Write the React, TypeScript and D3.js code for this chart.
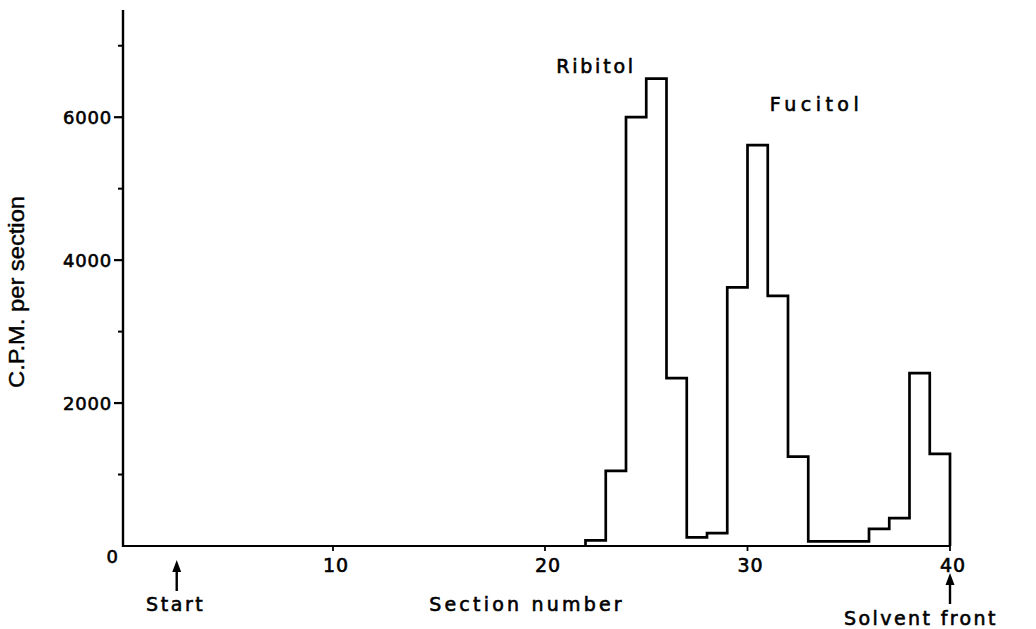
import * as d3 from 'd3';
import * as React from 'react';

const width = 1036;
const height = 629;

// section number where each bin starts (bin i covers [i, i+1])
const sections = [22, 23, 24, 25, 26, 27, 28, 29, 30, 31, 32, 33, 34, 35, 36, 37, 38, 39];
// C.P.M. per section
const counts = [80, 1050, 6000, 6540, 2350, 120, 180, 3620, 5610, 3500, 1250, 65, 65, 65, 240, 390, 2420, 1290];

const xTicks = [10, 20, 30, 40];
const yMajorTicks = [2000, 4000, 6000];
const yMinorTicks = [1000, 3000, 5000, 7000];

const peakLabels = [
  { text: 'Ribitol', section: 20.55, value: 6620 },
  { text: 'Fucitol', section: 31.1, value: 6090 },
];

const markers = [
  { text: 'Start', section: 2 },
  { text: 'Solvent front', section: 40 },
];

const font = '"DejaVu Sans", sans-serif';
// hand-lettered look: regular glyphs with a thin outline
const ink = { fill: '#000', stroke: '#000', strokeWidth: 0.6 };

export default function App() {
  // the hand-drawn axis is not quite even, so the scale follows its ticks
  const x = d3.scaleLinear().domain([-0.75, 10, 20, 40]).range([123, 333, 545, 950]);
  const y = d3.scaleLinear().domain([0, 7500]).range([546, 10]);

  const pts: Array<[number, number]> = [
    [sections[0], 0],
    ...sections.map((s, i) => [s, counts[i]] as [number, number]),
    [sections[sections.length - 1] + 1, counts[counts.length - 1]],
    [sections[sections.length - 1] + 1, 0],
  ];

  const line = d3
    .line<[number, number]>()
    .curve(d3.curveStepAfter)
    .x(d => x(d[0]))
    .y(d => y(d[1]));

  const x0 = x.range()[0];
  const yBase = y(0);

  return (
    <svg
      width={width}
      height={height}
      style={{ position: 'absolute', left: 0, top: 0, background: '#fff' }}
    >
      {/* axes */}
      <line x1={x0} x2={x0} y1={yBase + 1} y2={y(7500)} stroke="#000" strokeWidth={2.4} />
      <line x1={x0} x2={x(40)} y1={yBase} y2={yBase} stroke="#000" strokeWidth={2.2} />

      {yMajorTicks.map(t => (
        <g key={t}>
          <line x1={x0 - 9} x2={x0} y1={y(t)} y2={y(t)} stroke="#000" strokeWidth={2.2} />
          <text
            x={x0 - 11}
            y={y(t)}
            dy="0.36em"
            textAnchor="end"
            fontFamily={font}
            fontSize={18}
            letterSpacing={0.8}
            {...ink}
          >
            {t}
          </text>
        </g>
      ))}
      {yMinorTicks.map(t => (
        <line key={t} x1={x0 - 5} x2={x0} y1={y(t)} y2={y(t)} stroke="#000" strokeWidth={2} />
      ))}

      <text x={x0 - 5} y={yBase + 17} textAnchor="end" fontFamily={font} fontSize={18} {...ink}>
        0
      </text>

      {xTicks.map(t => (
        <g key={t}>
          <line x1={x(t)} x2={x(t)} y1={yBase} y2={yBase + 5} stroke="#000" strokeWidth={1.8} />
          <text
            x={x(t) + 3}
            y={yBase + 26}
            textAnchor="middle"
            fontFamily={font}
            fontSize={19}
            letterSpacing={1}
            {...ink}
          >
            {t}
          </text>
        </g>
      ))}

      {/* histogram */}
      <path d={line(pts) ?? ''} fill="none" stroke="#000" strokeWidth={2.7} strokeLinejoin="miter" />

      {peakLabels.map(p => (
        <text
          key={p.text}
          x={x(p.section)}
          y={y(p.value)}
          fontFamily={font}
          fontSize={19}
          letterSpacing={p.text === 'Ribitol' ? 2.8 : 4.5}
          {...ink}
        >
          {p.text}
        </text>
      ))}

      {/* arrows */}
      {markers.map((m, i) => {
        const ax = x(m.section);
        const top = i === 0 ? yBase + 14 : yBase + 27;
        const bottom = top + 31;
        return (
          <g key={m.text}>
            <line x1={ax} x2={ax} y1={top + 6} y2={bottom} stroke="#000" strokeWidth={2.4} />
            <path d={`M${ax},${top} L${ax - 4.5},${top + 12} L${ax + 4.5},${top + 12} Z`} fill="#000" />
            <text
              x={i === 0 ? ax - 1 : ax - 29}
              y={i === 0 ? bottom + 20 : bottom + 21}
              textAnchor="middle"
              fontFamily={font}
              fontSize={19}
              letterSpacing={i === 0 ? 2.6 : 2.4}
              {...ink}
            >
              {m.text}
            </text>
          </g>
        );
      })}

      <text
        x={527}
        y={611}
        textAnchor="middle"
        fontFamily={font}
        fontSize={19}
        letterSpacing={3.2}
        {...ink}
      >
        Section number
      </text>

      <text
        transform={`translate(24,${292}) rotate(-90)`}
        textAnchor="middle"
        fontFamily='"Liberation Sans Narrow", "Liberation Sans", sans-serif'
        fontSize={22}
        textLength={192}
        lengthAdjust="spacingAndGlyphs"
        {...ink}
        strokeWidth={0.4}
      >
        C.P.M. per section
      </text>
    </svg>
  );
}
